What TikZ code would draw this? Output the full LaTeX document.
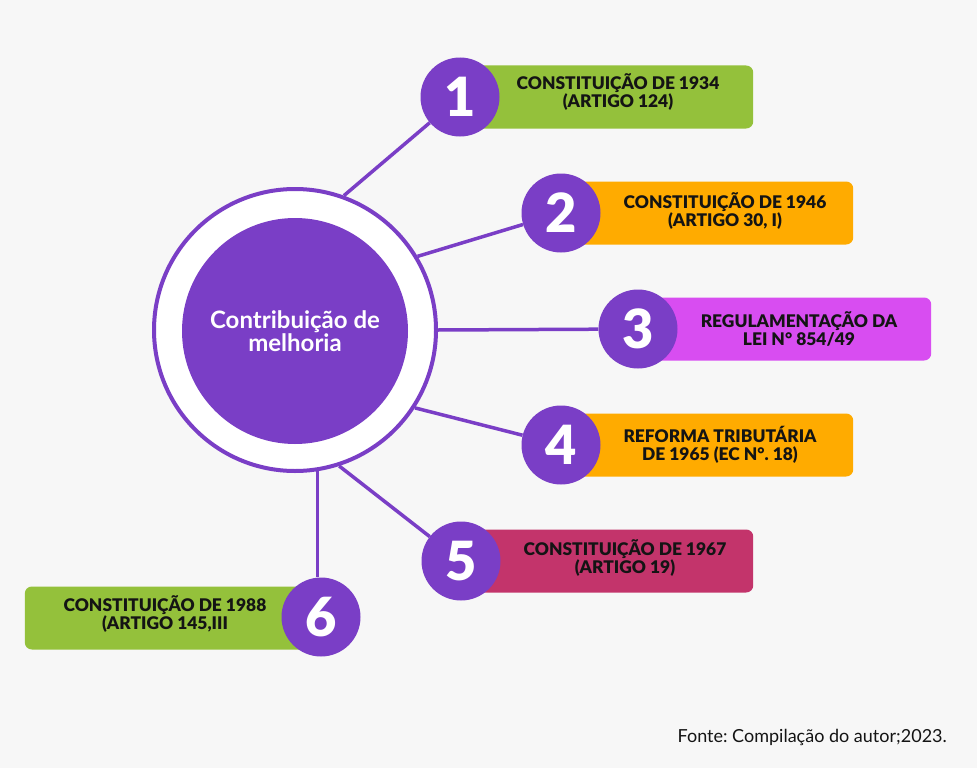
\documentclass[tikz,border=0pt]{standalone}
\usepackage{fontspec}
\setmainfont{Lato}
\newfontfamily\heavyfont{Lato Black}
\usetikzlibrary{positioning,calc}
\definecolor{Violet}{RGB}{122,62,198}
\definecolor{Leaf}{RGB}{148,193,59}
\definecolor{Amber}{RGB}{255,171,0}
\definecolor{Orchid}{RGB}{216,77,241}
\definecolor{Berry}{RGB}{195,52,107}
\definecolor{Paper}{RGB}{247,247,247}
\definecolor{Ink}{RGB}{20,20,20}
\frenchspacing
\tikzset{
  tag/.style={rounded corners=7pt, minimum height=63pt, inner sep=0pt},
  tagtext/.style={align=center, text=Ink, inner sep=0pt, font=\heavyfont\fontsize{17.4}{17.5}\selectfont},
  badge/.style={circle, fill=Violet, minimum size=79pt, inner sep=0pt, text=white,
    font=\heavyfont\fontsize{54}{54}\selectfont},
  spoke/.style={draw=Violet, line width=3.5pt},
}

\begin{document}
\begin{tikzpicture}[x=1pt, y=-1pt]
  \fill[Paper] (0,0) rectangle (977,768);
  \useasboundingbox (0,0) rectangle (977,768);
  % central hub
  \node[circle, draw=Violet, line width=4pt, fill=white, minimum size=282pt] (ring) at (295,330) {};
  \node[circle, fill=Violet, minimum size=226pt, text=white, align=center,
    font=\bfseries\fontsize{24}{22}\selectfont] (core) at (295,331) {Contribuição de\\melhoria};
  % coloured bars
  \node[tag, fill=Leaf, minimum width=293pt, anchor=west] (b1) at (460,97) {};
  \node[tag, fill=Amber, minimum width=292pt, anchor=west] (b2) at (561,213) {};
  \node[tag, fill=Orchid, minimum width=293pt, anchor=west] (b3) at (638,329) {};
  \node[tag, fill=Amber, minimum width=292pt, anchor=west] (b4) at (561,445) {};
  \node[tag, fill=Berry, minimum width=292pt, anchor=west] (b5) at (461,561) {};
  \node[tag, fill=Leaf, minimum width=296pt, anchor=east] (b6) at (321,618) {};
  \node[tagtext] (l1) at (618,92) {CONSTITUIÇÃO DE 1934\\(ARTIGO 124)};
  \node[tagtext] (l2) at (725,211) {CONSTITUIÇÃO DE 1946\\(ARTIGO 30, I)};
  \node[tagtext] (l3) at (799,329) {REGULAMENTAÇÃO DA\\LEI N° 854/49};
  \node[tagtext] (l4) at (720,445) {REFORMA TRIBUTÁRIA\\DE 1965 (EC N°. 18)};
  \node[tagtext] (l5) at (625,558) {CONSTITUIÇÃO DE 1967\\(ARTIGO 19)};
  \node[tagtext] (l6) at (165,614) {CONSTITUIÇÃO DE 1988\\(ARTIGO 145,III};
  % numbered badges
  \node[badge] (n1) at (460,97) {1};
  \node[badge] (n2) at (561,213) {2};
  \node[badge] (n3) at (638,329) {3};
  \node[badge] (n4) at (561,445) {4};
  \node[badge] (n5) at (461,561) {5};
  \node[badge] (n6) at (321,617) {6};
  % spokes
  \draw[spoke] (ring.70) -- (n1);
  \draw[spoke] (ring.31) -- (n2);
  \draw[spoke] (ring.east) -- (n3);
  \draw[spoke] (ring.-33) -- (n4);
  \draw[spoke] (ring.-72) -- (n5);
  \draw[spoke] (ring.-81.5) -- (ring.-81.5 |- n6.north);
  \node[anchor=east, text=Ink, inner sep=0pt, font=\fontsize{18}{20}\selectfont] (src) at (947,737) {Fonte: Compilação do autor;2023.};
\end{tikzpicture}
\end{document}
